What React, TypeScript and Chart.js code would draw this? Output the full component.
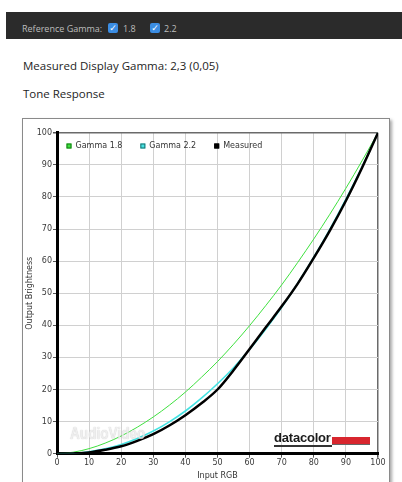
import React, { useEffect, useRef } from "react";
import { Chart, registerables } from "chart.js";

Chart.register(...registerables);

// ---- data ----
const inputRGB = [0, 5, 10, 15, 20, 25, 30, 35, 40, 45, 50, 55, 60, 65, 70, 75, 80, 85, 90, 95, 100];
const gamma18 = [0, 0.46, 1.58, 3.29, 5.52, 8.25, 11.45, 15.1, 19.2, 23.8, 28.7, 34.1, 39.9, 46.1, 52.6, 59.6, 66.9, 74.6, 82.7, 91.2, 100];
const gamma22 = [0, 0.14, 0.63, 1.54, 2.9, 4.74, 7.07, 9.93, 13.3, 17.3, 21.8, 26.8, 32.5, 38.8, 45.6, 53.1, 61.2, 69.9, 79.3, 89.3, 100];
const measured = [0, 0.1, 0.4, 1.2, 2.3, 4.0, 6.1, 8.8, 12.0, 15.7, 20.0, 26.0, 32.6, 39.3, 45.9, 53.0, 61.0, 69.5, 78.8, 89.0, 100];
const axisTicks = [0, 10, 20, 30, 40, 50, 60, 70, 80, 90, 100];
const legendLabels = ["Gamma 1.8", "Gamma 2.2", "Measured"];
const lineColors = ["#3fe03f", "#45e3e3", "#000000"];
const boxStrokes = ["#137a13", "#1d6f6f", "#000000"];

const FONT = "'DejaVu Sans', Verdana, sans-serif";

const insideLegend = {
  id: "insideLegend",
  afterDraw(chart: any) {
    const { ctx, chartArea } = chart;
    ctx.save();
    ctx.font = `8px ${FONT}`;
    ctx.textBaseline = "middle";
    ctx.textAlign = "left";
    let x = chartArea.left + 9.5;
    const cy = chartArea.top + 13.3;
    chart.data.datasets.forEach((ds: any, i: number) => {
      ctx.fillStyle = lineColors[i];
      ctx.fillRect(x, cy - 2.5, 5, 5);
      ctx.strokeStyle = boxStrokes[i];
      ctx.lineWidth = 1;
      ctx.strokeRect(x + 0.5, cy - 2, 4, 4);
      ctx.fillStyle = "#333";
      const tx = x + 9;
      ctx.fillText(ds.label, tx, cy);
      x = tx + ctx.measureText(ds.label).width + 18;
    });
    ctx.restore();
  },
};

function ToneChart() {
  const ref = useRef<HTMLCanvasElement | null>(null);
  useEffect(() => {
    if (!ref.current) return;
    const series = [gamma18, gamma22, measured];
    const widths = [1, 1.6, 2.5];
    const orders = [2, 1, 0];
    const chart = new Chart(ref.current, {
      type: "line",
      data: {
        datasets: series.map((s, i) => ({
          label: legendLabels[i],
          data: inputRGB.map((x, j) => ({ x, y: s[j] })),
          borderColor: lineColors[i],
          backgroundColor: lineColors[i],
          borderWidth: widths[i],
          pointRadius: 0,
          tension: 0.35,
          fill: false,
          order: orders[i],
        })),
      },
      options: {
        responsive: false,
        animation: false,
        events: [],
        layout: { padding: { top: 13.7, right: 11, left: 0, bottom: 0 } },
        plugins: { legend: { display: false }, tooltip: { enabled: false } },
        scales: {
          x: {
            type: "linear",
            min: 0,
            max: 100,
            afterBuildTicks: (s: any) => {
              s.ticks = axisTicks.map((v) => ({ value: v }));
            },
            afterFit: (s: any) => {
              s.height = 28.3;
            },
            ticks: { font: { family: FONT, size: 8 }, color: "#3a3a3a", padding: 0, maxRotation: 0, autoSkip: false },
            grid: {
              color: (c: any) => (c.tick && c.tick.value === 100 ? "#6a6a6a" : "#d0d0d0"),
              lineWidth: (c: any) => (c.tick && c.tick.value === 100 ? 1.5 : 1),
              tickLength: 4,
              tickColor: "#555",
            },
            border: { color: "#000", width: 3 },
            title: {
              display: true,
              text: "Input RGB",
              font: { family: FONT, size: 8 },
              color: "#333",
              padding: { top: 0, bottom: 1.5 },
            },
          },
          y: {
            type: "linear",
            min: 0,
            max: 100,
            afterBuildTicks: (s: any) => {
              s.ticks = axisTicks.map((v) => ({ value: v }));
            },
            afterFit: (s: any) => {
              s.width = 34;
            },
            ticks: { font: { family: FONT, size: 8 }, color: "#3a3a3a", padding: 1, autoSkip: false },
            grid: {
              color: (c: any) => (c.tick && c.tick.value === 100 ? "#6a6a6a" : "#d0d0d0"),
              lineWidth: (c: any) => (c.tick && c.tick.value === 100 ? 1.5 : 1),
              tickLength: 4,
              tickColor: "#555",
            },
            border: { color: "#000", width: 3 },
            title: {
              display: true,
              text: "Output Brightness",
              font: { family: FONT, size: 8 },
              color: "#333",
              padding: { top: 2.2, bottom: 0 },
            },
          },
        },
      },
      plugins: [insideLegend],
    } as any);
    return () => chart.destroy();
  }, []);
  return <canvas ref={ref} width={366} height={363} style={{ position: "absolute", left: 0, top: 0, width: 366, height: 363 }} />;
}

function Check({ left }: { left: number }) {
  return (
    <div
      style={{
        position: "absolute",
        left,
        top: 23,
        width: 10,
        height: 10,
        borderRadius: 2,
        background: "#3b8de3",
        color: "#fff",
        fontSize: 9,
        lineHeight: "10px",
        textAlign: "center",
        fontFamily: FONT,
      }}
    >
      ✓
    </div>
  );
}

export default function App() {
  const small: React.CSSProperties = {
    position: "absolute",
    fontFamily: "'Open Sans', sans-serif",
    fontSize: 9,
    lineHeight: "12px",
    color: "#bdbdbd",
    whiteSpace: "nowrap",
  };
  const head: React.CSSProperties = {
    position: "absolute",
    left: 23,
    fontFamily: "'Open Sans', sans-serif",
    fontSize: 11.5,
    lineHeight: "14px",
    color: "#1e1e1e",
    whiteSpace: "nowrap",
  };
  return (
    <div style={{ position: "absolute", left: 0, top: 0, width: 402, height: 482, overflow: "hidden", background: "#fff" }}>
      <div style={{ position: "absolute", left: 6, top: 12, width: 396, height: 27, background: "#2b2b2b" }} />
      <div style={{ ...small, left: 22, top: 23 }}>Reference Gamma:</div>
      <Check left={108} />
      <div style={{ ...small, left: 123, top: 23 }}>1.8</div>
      <Check left={150} />
      <div style={{ ...small, left: 164, top: 23 }}>2.2</div>

      <div style={{ ...head, top: 58.5 }}>Measured Display Gamma: 2,3 (0,05)</div>
      <div style={{ ...head, top: 87.2 }}>Tone Response</div>

      <div
        style={{
          position: "absolute",
          left: 22,
          top: 118,
          width: 366,
          height: 380,
          border: "1px solid #8a8a8a",
          boxShadow: "2px 2px 3px rgba(0,0,0,0.35)",
          background: "#fff",
        }}
      >
        <ToneChart />
      </div>

      <div
        style={{
          position: "absolute",
          left: 70,
          top: 424,
          fontFamily: "'Liberation Sans', Arial, sans-serif",
          fontWeight: "bold",
          fontSize: 17,
          lineHeight: "20px",
          color: "rgba(255,255,255,0.75)",
          textShadow: "0 0 1px rgba(0,0,0,0.3)",
          whiteSpace: "nowrap",
          transform: "scaleX(0.8)",
          transformOrigin: "left top",
        }}
      >
        AudioVideo
      </div>

      <div
        style={{
          position: "absolute",
          left: 274,
          top: 430,
          fontFamily: "'Liberation Sans', Arial, sans-serif",
          fontWeight: "bold",
          fontSize: 13,
          lineHeight: "15px",
          color: "#1a1a1a",
          whiteSpace: "nowrap",
          letterSpacing: -0.2,
        }}
      >
        datacolor
      </div>
      <div style={{ position: "absolute", left: 274, top: 445, width: 58, height: 1.5, background: "#333" }} />
      <div style={{ position: "absolute", left: 332, top: 437, width: 38, height: 7, background: "#d8262e", borderBottom: "1px solid #666" }} />
    </div>
  );
}
